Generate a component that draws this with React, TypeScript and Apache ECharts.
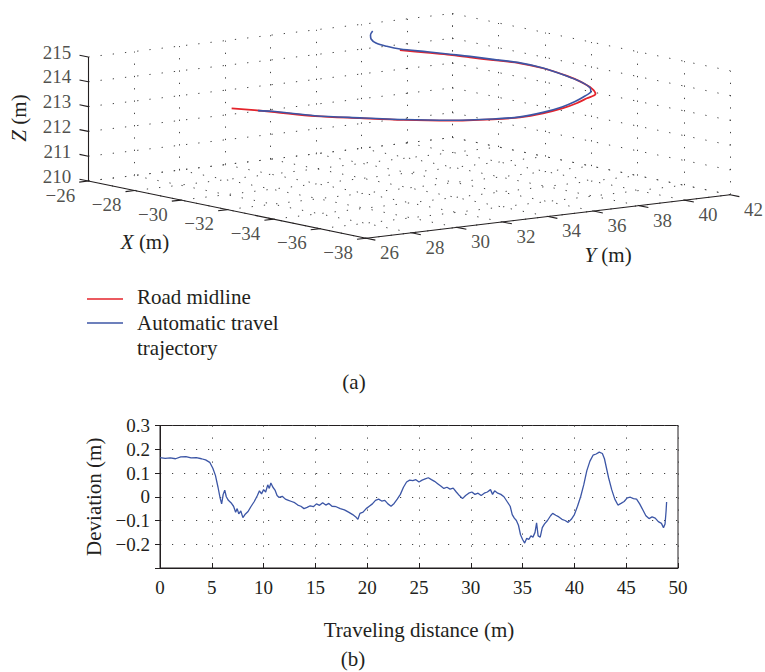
import React, { useEffect, useRef } from "react";
import * as echarts from "echarts";

// ---------- 3D plot (a) data ----------
const X_TICKS = [-26, -28, -30, -32, -34, -36, -38];
const Y_TICKS = [26, 28, 30, 32, 34, 36, 38, 40, 42];
const Z_TICKS = [210, 211, 212, 213, 214, 215];

const midlineX = [-27.18, -28.54, -30.07, -31.35, -32.53, -33.64, -34.4, -34.84, -34.94, -34.86, -34.68, -34.45, -34.29, -33.77, -33.0, -32.25, -31.12, -30.36, -29.77, -29.31, -28.96, -28.56, -28.04];
const midlineY = [31.1, 31.48, 31.83, 32.5, 33.19, 34.13, 35.24, 35.98, 36.89, 37.85, 38.63, 39.32, 39.86, 40.23, 40.53, 40.68, 40.78, 40.54, 39.96, 39.41, 38.89, 38.28, 37.62];
const midlineZ = [212.6, 212.68, 212.76, 212.85, 212.93, 213.01, 213.09, 213.17, 213.25, 213.34, 213.42, 213.5, 213.58, 213.66, 213.75, 213.83, 213.91, 213.99, 214.07, 214.15, 214.24, 214.32, 214.4];

const travelX = [-28.07, -28.47, -30.01, -31.31, -32.48, -33.58, -34.36, -34.77, -34.83, -34.67, -34.42, -34.12, -33.88, -33.61, -32.92, -32.21, -31.08, -30.3, -29.67, -29.21, -28.87, -28.44, -27.91, -27.67, -27.39, -27.11, -26.83, -26.57];
const travelY = [31.35, 31.55, 31.88, 32.54, 33.24, 34.18, 35.28, 36.05, 37.0, 38.0, 38.83, 39.57, 40.07, 40.31, 40.57, 40.68, 40.82, 40.6, 40.05, 39.51, 38.98, 38.41, 37.76, 37.42, 37.23, 37.3, 37.56, 37.92];
const travelZ = [212.65, 212.68, 212.76, 212.85, 212.93, 213.01, 213.09, 213.17, 213.26, 213.34, 213.42, 213.5, 213.58, 213.66, 213.75, 213.83, 213.91, 213.99, 214.07, 214.16, 214.24, 214.32, 214.4, 214.5, 214.6, 214.7, 214.78, 214.85];

// ---------- plot (b) data ----------
const distance = [0, 0.5, 1.0, 1.5, 2.0, 2.5, 3.0, 3.5, 4.0, 4.4, 4.8, 5.1, 5.35, 5.6, 5.8, 5.95, 6.1, 6.25, 6.4, 6.6, 6.85, 7.1, 7.3, 7.45, 7.6, 7.8, 8.0, 8.2, 8.5, 8.8, 9.1, 9.4, 9.6, 9.8, 10.0, 10.2, 10.4, 10.55, 10.7, 10.9, 11.1, 11.3, 11.5, 11.8, 12.1, 12.4, 12.7, 13.0, 13.3, 13.6, 13.9, 14.2, 14.5, 14.8, 15.1, 15.4, 15.7, 16.0, 16.3, 16.6, 17.0, 17.4, 17.8, 18.2, 18.6, 18.9, 19.1, 19.3, 19.6, 19.9, 20.2, 20.5, 20.8, 21.1, 21.4, 21.7, 22.0, 22.3, 22.6, 22.9, 23.2, 23.5, 23.8, 24.1, 24.4, 24.7, 25.0, 25.3, 25.6, 25.9, 26.2, 26.5, 26.8, 27.1, 27.4, 27.7, 28.0, 28.3, 28.6, 28.9, 29.2, 29.5, 29.8, 30.1, 30.4, 30.7, 31.0, 31.3, 31.6, 31.9, 32.1, 32.3, 32.6, 32.9, 33.2, 33.5, 33.8, 34.0, 34.2, 34.4, 34.6, 34.8, 35.0, 35.2, 35.4, 35.6, 35.8, 36.0, 36.2, 36.35, 36.5, 36.7, 36.9, 37.1, 37.4, 37.7, 37.9, 38.2, 38.5, 38.8, 39.1, 39.4, 39.7, 40.0, 40.3, 40.6, 40.9, 41.2, 41.5, 41.8, 42.1, 42.4, 42.7, 42.9, 43.1, 43.3, 43.6, 43.9, 44.2, 44.5, 44.8, 45.1, 45.4, 45.7, 46.0, 46.3, 46.6, 46.9, 47.2, 47.5, 47.8, 48.1, 48.4, 48.6, 48.75, 48.85, 48.9];
const deviation = [0.165, 0.162, 0.164, 0.16, 0.168, 0.169, 0.164, 0.165, 0.16, 0.155, 0.145, 0.12, 0.09, 0.04, -0.005, -0.03, 0.01, 0.028, 0.0, -0.015, -0.025, -0.04, -0.065, -0.05, -0.072, -0.06, -0.088, -0.075, -0.062, -0.04, -0.02, 0.005, 0.025, 0.012, 0.03, 0.02, 0.05, 0.035, 0.058, 0.04, 0.028, 0.005, -0.003, 0.002, -0.01, -0.015, -0.02, -0.025, -0.035, -0.04, -0.05, -0.045, -0.038, -0.042, -0.03, -0.036, -0.025, -0.035, -0.028, -0.04, -0.042, -0.05, -0.055, -0.065, -0.075, -0.085, -0.095, -0.07, -0.065, -0.05, -0.04, -0.03, -0.015, -0.01, -0.018, -0.015, -0.03, -0.04, -0.028, -0.01, 0.01, 0.04, 0.062, 0.07, 0.068, 0.072, 0.062, 0.07, 0.075, 0.08, 0.072, 0.065, 0.055, 0.045, 0.035, 0.04, 0.032, 0.036, 0.02, 0.005, -0.008, 0.005, 0.015, 0.02, 0.01, 0.015, 0.005, 0.015, 0.02, 0.03, 0.01, 0.025, 0.015, 0.01, 0.0, -0.02, -0.04, -0.075, -0.09, -0.1, -0.12, -0.16, -0.18, -0.195, -0.175, -0.18, -0.165, -0.17, -0.15, -0.11, -0.165, -0.17, -0.13, -0.115, -0.1, -0.08, -0.07, -0.078, -0.085, -0.095, -0.1, -0.108, -0.095, -0.075, -0.04, 0.0, 0.05, 0.11, 0.15, 0.175, 0.18, 0.188, 0.182, 0.16, 0.12, 0.08, 0.03, -0.01, -0.035, -0.028, -0.02, -0.005, -0.002, -0.008, -0.01, -0.03, -0.055, -0.08, -0.092, -0.085, -0.09, -0.105, -0.112, -0.13, -0.115, -0.06, -0.022];

const X_LABELS = ["0", "5", "10", "15", "20", "25", "30", "35", "40", "45", "50"];

// ---------- styling ----------
const FONT = '"Liberation Serif", "Times New Roman", serif';
const TEXT = "#231f20";
const RED = "#e4232b";
const BLUE = "#3c56a6";
const GRIDC = "#444444";

const W = 765;
const H = 672;

// orthographic view of the 3D box (pixels per data unit)
const VIEW = { ox: 88.3, oy: 181, ex: [-23.15, -4.77], ey: [22.75, -2.72], ez: -24.8 };
function proj(x: number, y: number, z: number): [number, number] {
  const u = x + 26, v = y - 26, w = z - 210;
  return [VIEW.ox + u * VIEW.ex[0] + v * VIEW.ey[0], VIEW.oy + u * VIEW.ex[1] + v * VIEW.ey[1] + w * VIEW.ez];
}
const minus = (v: number) => (v < 0 ? "\u2212" + Math.abs(v) : String(v));

export default function App() {
  const ref = useRef<HTMLDivElement>(null);
  useEffect(() => {
    document.body.style.margin = "0";
    if (!ref.current) return;
    const chart = echarts.init(ref.current, undefined, { renderer: "svg" });

    const seg = (a: number[], b: number[]) => ({ coords: [proj(a[0], a[1], a[2]), proj(b[0], b[1], b[2])] });
    const xMin = Math.min(...X_TICKS), xMax = Math.max(...X_TICKS);
    const yMin = Math.min(...Y_TICKS), yMax = Math.max(...Y_TICKS);
    const zMin = Math.min(...Z_TICKS), zMax = Math.max(...Z_TICKS);

    const gridSegs: any[] = [];
    X_TICKS.forEach((x) => {
      gridSegs.push(seg([x, yMin, zMin], [x, yMax, zMin]));
      gridSegs.push(seg([x, yMax, zMin], [x, yMax, zMax]));
    });
    Y_TICKS.forEach((y) => {
      gridSegs.push(seg([xMin, y, zMin], [xMax, y, zMin]));
      gridSegs.push(seg([xMax, y, zMin], [xMax, y, zMax]));
    });
    Z_TICKS.forEach((z) => {
      gridSegs.push(seg([xMax, yMin, z], [xMax, yMax, z]));
      gridSegs.push(seg([xMax, yMax, z], [xMin, yMax, z]));
    });

    const axisSegs = [
      seg([xMax, yMin, zMin], [xMin, yMin, zMin]),
      seg([xMin, yMin, zMin], [xMin, yMax, zMin]),
      seg([xMax, yMin, zMin], [xMax, yMin, zMax]),
    ];
    const tickSegs: any[] = [];
    X_TICKS.forEach((x) => tickSegs.push(seg([x, yMin, zMin], [x, yMin - 0.4, zMin])));
    Y_TICKS.forEach((y) => tickSegs.push(seg([xMin, y, zMin], [xMin - 0.4, y, zMin])));
    Z_TICKS.forEach((z) => tickSegs.push(seg([xMax, yMin, z], [xMax + 0.38, yMin, z])));

    const midline = midlineX.map((x, i) => proj(x, midlineY[i], midlineZ[i]));
    const travel = travelX.map((x, i) => proj(x, travelY[i], travelZ[i]));

    const labelSeries = (items: { p: [number, number]; t: string }[], offset: number[], align: string) => ({
      type: "scatter",
      xAxisIndex: 0,
      yAxisIndex: 0,
      silent: true,
      symbolSize: 1,
      itemStyle: { color: "rgba(0,0,0,0)" },
      label: { show: true, position: "inside", offset, align, verticalAlign: "middle", fontFamily: FONT, fontSize: 19, color: TEXT },
      emphasis: { disabled: true },
      data: items.map((it) => ({ value: it.p, label: { formatter: it.t } })),
      z: 5,
    });

    const option: any = {
      animation: false,
      backgroundColor: "#ffffff",
      grid: [
        { left: 0, top: 0, width: W, height: H, outerBoundsMode: "none", show: false },
        { left: 160, top: 425.5, width: 518, height: 142.5, outerBoundsMode: "none", show: true, borderColor: TEXT, borderWidth: 1, backgroundColor: "transparent" },
      ],
      xAxis: [
        { type: "value", gridIndex: 0, min: 0, max: W, show: false },
        {
          type: "value", gridIndex: 1, min: 0, max: 50, interval: 5,
          axisLine: { show: true, onZero: false, lineStyle: { color: TEXT, width: 1 } },
          axisTick: { show: true, inside: true, length: 5, lineStyle: { color: TEXT } },
          axisLabel: { margin: 10, fontFamily: FONT, fontSize: 19, color: TEXT, formatter: (v: number) => X_LABELS[Math.round(v / 5)] },
          splitLine: { show: true, lineStyle: { color: GRIDC, width: 1, type: [1.2, 10.8] } },
          name: "Traveling distance (m)", nameLocation: "middle", nameGap: 51,
          nameTextStyle: { fontFamily: FONT, fontSize: 21, color: TEXT },
        },
      ],
      yAxis: [
        { type: "value", gridIndex: 0, min: 0, max: H, inverse: true, show: false },
        {
          type: "value", gridIndex: 1, min: -0.3, max: 0.3, interval: 0.1,
          axisLine: { show: true, onZero: false, lineStyle: { color: TEXT, width: 1 } },
          axisTick: { show: true, inside: false, length: 5, lineStyle: { color: TEXT } },
          axisLabel: {
            margin: 10, fontFamily: FONT, fontSize: 19, color: TEXT,
            formatter: (v: number) => {
              const r = Math.round(v * 10) / 10;
              if (r === -0.3) return "";
              return minus(r === 0 ? 0 : r);
            },
          },
          splitLine: { show: true, lineStyle: { color: GRIDC, width: 1, type: [1.2, 10.8] } },
          name: "Deviation (m)", nameLocation: "middle", nameGap: 52,
          nameTextStyle: { fontFamily: FONT, fontSize: 21, color: TEXT },
        },
      ],
      series: [
        {
          type: "lines", coordinateSystem: "cartesian2d", xAxisIndex: 0, yAxisIndex: 0, silent: true,
          lineStyle: { color: GRIDC, width: 1, type: [1.3, 11], opacity: 1, curveness: 0 },
          data: gridSegs, z: 1,
        },
        {
          type: "lines", coordinateSystem: "cartesian2d", xAxisIndex: 0, yAxisIndex: 0, silent: true,
          lineStyle: { color: TEXT, width: 1.1, type: "solid", opacity: 1, curveness: 0 },
          data: axisSegs.concat(tickSegs), z: 2,
        },
        {
          name: "Road midline", type: "line", xAxisIndex: 0, yAxisIndex: 0, data: midline, showSymbol: false,
          smooth: 0.3, lineStyle: { color: RED, width: 1.8 }, itemStyle: { color: RED }, silent: true, z: 3,
        },
        {
          name: "Automatic travel trajectory", type: "line", xAxisIndex: 0, yAxisIndex: 0, data: travel, showSymbol: false,
          smooth: 0.3, lineStyle: { color: BLUE, width: 1.6 }, itemStyle: { color: BLUE }, silent: true, z: 4,
        },
        labelSeries(X_TICKS.map((x) => ({ p: proj(x, yMin, zMin), t: minus(x) })), [-28, 14], "center"),
        labelSeries(Y_TICKS.map((y) => ({ p: proj(xMin, y, zMin), t: minus(y) })), [23.3, 14.5], "center"),
        labelSeries(Z_TICKS.map((z) => ({ p: proj(xMax, yMin, z), t: minus(z) })), [-17, -5], "right"),
        {
          name: "Deviation", type: "line", xAxisIndex: 1, yAxisIndex: 1,
          data: distance.map((d, i) => [d, deviation[i]]), showSymbol: false,
          lineStyle: { color: BLUE, width: 1.3 }, itemStyle: { color: BLUE }, silent: true, z: 3,
        },
      ],
      graphic: [
        { type: "line", shape: { x1: 87, y1: 299, x2: 123, y2: 299 }, style: { stroke: RED, lineWidth: 1.5 } },
        { type: "line", shape: { x1: 87, y1: 323, x2: 123, y2: 323 }, style: { stroke: BLUE, lineWidth: 1.5 } },
        { type: "text", x: 137, y: 297, style: { text: "Road midline", font: `21px ${FONT}`, fill: TEXT, verticalAlign: "middle" } },
        { type: "text", x: 137, y: 323, style: { text: "Automatic travel", font: `21px ${FONT}`, fill: TEXT, verticalAlign: "middle" } },
        { type: "text", x: 137, y: 348, style: { text: "trajectory", font: `21px ${FONT}`, fill: TEXT, verticalAlign: "middle" } },
        {
          type: "text", x: 145, y: 242,
          style: { text: "{i|X} (m)", fontFamily: FONT, fontSize: 21, fill: TEXT, align: "center", verticalAlign: "middle", rich: { i: { fontStyle: "italic", fontFamily: FONT, fontSize: 21, fill: TEXT } } },
        },
        {
          type: "text", x: 608, y: 255,
          style: { text: "{i|Y} (m)", fontFamily: FONT, fontSize: 21, fill: TEXT, align: "center", verticalAlign: "middle", rich: { i: { fontStyle: "italic", fontFamily: FONT, fontSize: 21, fill: TEXT } } },
        },
        {
          type: "text", x: 19, y: 118, rotation: Math.PI / 2,
          style: { text: "{i|Z} (m)", fontFamily: FONT, fontSize: 21, fill: TEXT, align: "center", verticalAlign: "middle", rich: { i: { fontStyle: "italic", fontFamily: FONT, fontSize: 21, fill: TEXT } } },
        },
        { type: "text", x: 354, y: 382, style: { text: "(a)", font: `21px ${FONT}`, fill: TEXT, align: "center", verticalAlign: "middle" } },
        { type: "text", x: 353, y: 659, style: { text: "(b)", font: `21px ${FONT}`, fill: TEXT, align: "center", verticalAlign: "middle" } },
      ],
    };
    chart.setOption(option);
    return () => chart.dispose();
  }, []);
  return <div ref={ref} style={{ width: W, height: H }} />;
}
